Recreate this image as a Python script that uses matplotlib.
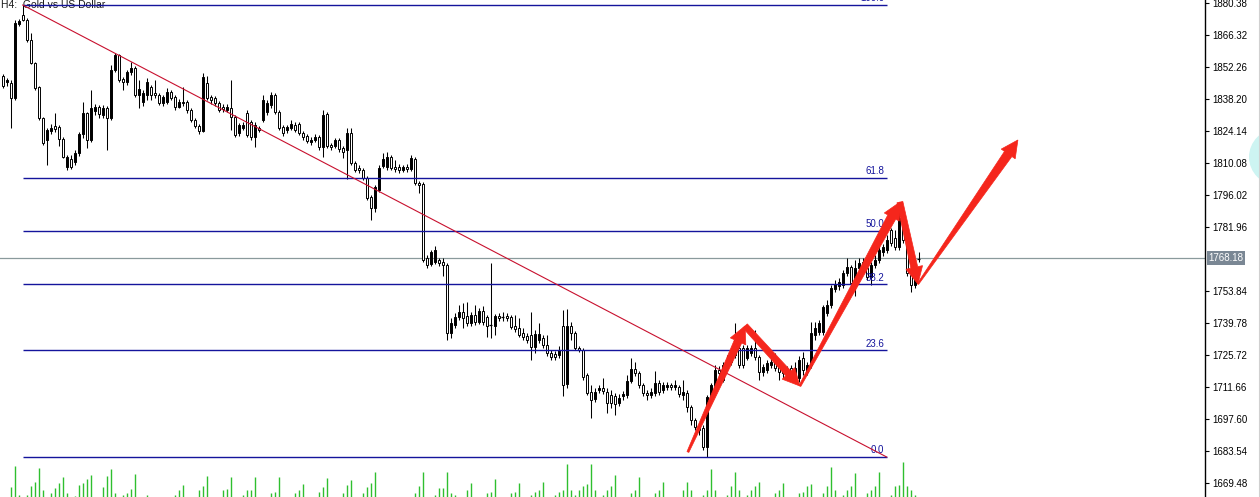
import numpy as np
import matplotlib
matplotlib.use('Agg')
import matplotlib.pyplot as plt
from matplotlib.patches import Rectangle, Polygon, Circle
from matplotlib.lines import Line2D
from matplotlib.transforms import IdentityTransform, blended_transform_factory

plt.rcParams['font.family'] = ['Liberation Sans', 'DejaVu Sans']

# H4 XAUUSD candles
opens = [
    1848.3, 1845.7, 1845.2, 1838.6, 1871.2, 1875.1, 1872.9, 1864.1, 1854.0, 1843.5,
    1829.8, 1820.2, 1824.1, 1826.3, 1825.9, 1820.6, 1808.3, 1811.8, 1810.5, 1814.5,
    1822.8, 1832.1, 1820.2, 1832.9, 1834.7, 1831.2, 1834.2, 1829.8, 1850.9, 1857.5,
    1847.0, 1845.7, 1850.1, 1851.8, 1840.0, 1836.9, 1840.0, 1843.5, 1840.8, 1840.0,
    1836.4, 1836.9, 1841.3, 1839.1, 1834.7, 1836.4, 1836.9, 1833.4, 1829.0, 1826.3,
    1824.1, 1845.2, 1839.1, 1838.6, 1836.4, 1834.7, 1833.4, 1834.2, 1830.3, 1823.3,
    1825.5, 1832.1, 1828.1, 1821.5, 1825.5, 1829.0, 1832.5, 1835.6, 1840.0, 1832.5,
    1825.9, 1824.6, 1825.5, 1826.8, 1827.2, 1823.3, 1821.9, 1819.3, 1820.2, 1821.5,
    1817.1, 1831.6, 1818.0, 1817.5, 1820.2, 1816.7, 1815.8, 1823.3, 1810.1, 1807.9,
    1807.0, 1803.5, 1795.1, 1790.3, 1798.2, 1808.8, 1808.3, 1812.7, 1808.3, 1808.3,
    1807.0, 1808.3, 1807.4, 1811.8, 1801.3, 1800.9, 1768.3, 1765.7, 1766.6, 1767.5,
    1766.6, 1765.3, 1735.4, 1738.9, 1742.4, 1744.6, 1742.9, 1739.8, 1743.3, 1740.2,
    1745.0, 1742.4, 1738.9, 1738.5, 1742.9, 1742.4, 1742.9, 1742.4, 1738.5, 1737.6,
    1735.4, 1734.1, 1734.5, 1729.2, 1732.3, 1733.2, 1730.1, 1726.6, 1726.1, 1725.7,
    1738.5, 1713.0, 1738.5, 1735.4, 1728.8, 1727.9, 1716.9, 1709.4, 1706.4, 1710.4,
    1711.2, 1709.4, 1708.1, 1707.7, 1704.6, 1707.7, 1708.1, 1714.3, 1719.6, 1717.8,
    1712.5, 1709.0, 1708.1, 1709.0, 1713.4, 1710.4, 1711.6, 1712.5, 1711.6, 1711.6,
    1708.1, 1709.0, 1702.9, 1697.2, 1694.1, 1693.6, 1685.3, 1707.3, 1710.4, 1719.1,
    1714.7, 1720.0, 1722.6, 1725.7, 1728.8, 1728.8, 1724.4, 1726.6, 1728.8, 1724.8,
    1718.2, 1719.1, 1721.3, 1724.8, 1720.4, 1720.0, 1719.1, 1720.0, 1716.9, 1715.6,
    1724.4, 1718.2, 1721.3, 1734.5, 1735.8, 1735.8, 1744.2, 1747.7, 1754.7, 1756.0,
    1756.5, 1761.7, 1764.4, 1758.7, 1763.9, 1766.6, 1763.9, 1760.0, 1765.3, 1767.5,
    1770.9, 1771.9, 1780.6, 1777.1, 1773.2, 1785.9, 1776.2, 1760.9, 1756.5, 1767.9,
]
highs = [
    1849.2, 1847.4, 1846.5, 1872.9, 1873.4, 1879.5, 1873.8, 1867.2, 1854.5, 1843.9,
    1830.3, 1825.5, 1827.2, 1832.1, 1826.8, 1821.5, 1813.6, 1813.6, 1815.8, 1823.7,
    1836.9, 1832.5, 1842.2, 1836.0, 1835.6, 1835.6, 1835.1, 1853.1, 1858.4, 1858.0,
    1847.9, 1850.9, 1854.5, 1852.7, 1846.5, 1842.2, 1847.4, 1844.3, 1846.5, 1840.8,
    1840.0, 1843.0, 1842.2, 1840.0, 1838.2, 1843.5, 1837.8, 1834.2, 1829.8, 1827.2,
    1849.6, 1848.3, 1840.0, 1839.5, 1837.3, 1836.0, 1836.0, 1846.5, 1831.2, 1827.7,
    1828.1, 1833.4, 1829.0, 1828.1, 1826.3, 1840.0, 1837.8, 1841.3, 1840.8, 1833.4,
    1826.8, 1826.8, 1829.0, 1828.1, 1828.1, 1824.1, 1822.8, 1821.5, 1822.8, 1822.4,
    1833.4, 1832.5, 1818.9, 1821.1, 1821.1, 1817.5, 1825.5, 1825.5, 1810.9, 1809.2,
    1807.9, 1804.4, 1796.0, 1800.4, 1809.2, 1814.5, 1814.9, 1813.6, 1811.4, 1809.6,
    1809.2, 1809.6, 1813.6, 1812.7, 1802.2, 1801.7, 1769.7, 1771.9, 1773.6, 1768.3,
    1768.3, 1766.1, 1742.0, 1744.2, 1747.7, 1748.6, 1749.0, 1744.6, 1747.7, 1746.4,
    1747.2, 1743.3, 1766.1, 1743.7, 1744.2, 1744.6, 1744.2, 1743.3, 1743.3, 1742.0,
    1737.6, 1735.4, 1744.6, 1736.7, 1739.8, 1734.5, 1734.5, 1727.9, 1727.5, 1729.7,
    1745.5, 1745.9, 1740.2, 1736.3, 1729.7, 1728.8, 1717.8, 1712.5, 1711.2, 1712.5,
    1715.6, 1711.2, 1710.4, 1709.0, 1708.6, 1709.9, 1716.9, 1724.4, 1722.6, 1718.7,
    1713.4, 1710.4, 1711.2, 1718.7, 1714.7, 1713.9, 1713.9, 1713.4, 1714.7, 1712.5,
    1714.7, 1710.4, 1703.7, 1698.0, 1695.4, 1695.0, 1708.1, 1713.4, 1721.3, 1720.9,
    1722.6, 1725.7, 1727.9, 1739.8, 1732.3, 1730.1, 1730.1, 1730.1, 1736.7, 1725.7,
    1721.8, 1723.5, 1724.4, 1726.6, 1721.8, 1721.3, 1720.9, 1721.3, 1722.6, 1725.3,
    1727.0, 1722.6, 1740.2, 1740.2, 1741.1, 1747.7, 1749.9, 1756.5, 1758.7, 1759.5,
    1763.1, 1768.3, 1765.3, 1767.5, 1768.3, 1768.3, 1765.3, 1766.6, 1769.7, 1773.6,
    1774.5, 1778.4, 1781.5, 1780.6, 1788.5, 1787.2, 1777.6, 1762.2, 1760.9, 1771.0,
]
lows = [
    1843.0, 1843.9, 1825.5, 1837.8, 1870.3, 1872.5, 1863.2, 1853.6, 1842.2, 1829.0,
    1818.0, 1809.2, 1822.8, 1823.7, 1817.5, 1812.3, 1807.0, 1807.4, 1809.2, 1813.2,
    1821.1, 1816.7, 1819.3, 1831.2, 1829.8, 1829.8, 1815.8, 1829.0, 1850.1, 1845.7,
    1842.2, 1844.3, 1848.7, 1839.1, 1834.2, 1835.1, 1837.8, 1837.8, 1838.6, 1835.6,
    1835.1, 1836.0, 1837.8, 1833.4, 1834.2, 1835.1, 1832.1, 1828.1, 1825.5, 1822.8,
    1823.7, 1837.8, 1836.0, 1835.1, 1832.5, 1832.5, 1832.5, 1824.6, 1821.5, 1821.9,
    1824.6, 1821.5, 1820.2, 1817.1, 1823.7, 1828.1, 1831.2, 1834.2, 1831.6, 1824.6,
    1821.9, 1823.3, 1824.6, 1823.7, 1822.4, 1820.2, 1818.9, 1818.0, 1819.3, 1815.8,
    1812.7, 1816.7, 1815.8, 1816.7, 1814.9, 1812.3, 1803.0, 1809.2, 1806.1, 1805.7,
    1802.6, 1793.8, 1785.0, 1788.6, 1797.3, 1807.9, 1807.0, 1807.0, 1806.1, 1805.7,
    1806.1, 1806.1, 1806.6, 1800.4, 1796.9, 1766.6, 1763.9, 1764.8, 1765.7, 1764.8,
    1760.4, 1732.3, 1733.2, 1737.6, 1741.1, 1737.6, 1738.5, 1738.5, 1738.9, 1739.3,
    1738.9, 1733.6, 1733.2, 1734.5, 1740.7, 1740.7, 1740.7, 1737.1, 1735.8, 1733.6,
    1732.3, 1731.0, 1723.5, 1726.6, 1731.0, 1728.8, 1725.3, 1723.5, 1723.5, 1724.4,
    1707.7, 1711.2, 1732.3, 1727.9, 1727.0, 1714.7, 1708.1, 1698.0, 1705.1, 1709.0,
    1708.6, 1700.2, 1702.4, 1699.3, 1703.3, 1705.9, 1706.8, 1713.4, 1716.5, 1711.2,
    1707.7, 1705.9, 1706.8, 1707.7, 1708.1, 1709.0, 1710.4, 1710.4, 1710.4, 1707.3,
    1705.9, 1700.7, 1695.0, 1692.8, 1690.6, 1684.0, 1680.9, 1705.9, 1709.5, 1716.5,
    1713.9, 1719.1, 1721.3, 1724.4, 1720.0, 1720.0, 1723.5, 1725.3, 1723.5, 1714.7,
    1716.5, 1717.8, 1720.0, 1718.7, 1714.7, 1715.6, 1714.7, 1715.6, 1714.7, 1713.9,
    1716.9, 1716.9, 1720.0, 1732.3, 1734.5, 1734.5, 1742.9, 1746.4, 1753.4, 1754.3,
    1755.2, 1760.4, 1756.0, 1751.6, 1762.2, 1762.6, 1758.7, 1756.5, 1763.9, 1766.1,
    1769.2, 1770.5, 1773.6, 1771.9, 1771.9, 1774.9, 1760.4, 1753.4, 1755.2, 1766.6,
]
closes = [
    1843.9, 1846.5, 1838.6, 1871.6, 1872.5, 1872.9, 1864.1, 1854.0, 1843.0, 1829.8,
    1818.9, 1824.6, 1825.5, 1825.0, 1820.6, 1812.7, 1812.7, 1808.3, 1814.5, 1822.8,
    1832.1, 1820.2, 1834.2, 1834.7, 1831.6, 1834.2, 1829.8, 1850.9, 1857.5, 1846.5,
    1845.7, 1850.1, 1851.8, 1840.0, 1842.6, 1840.8, 1845.7, 1840.0, 1840.0, 1836.4,
    1839.1, 1841.3, 1838.6, 1834.7, 1836.9, 1836.9, 1833.4, 1829.0, 1826.3, 1824.1,
    1847.9, 1838.6, 1837.8, 1836.4, 1833.4, 1833.8, 1834.7, 1830.3, 1822.4, 1826.8,
    1826.8, 1822.4, 1821.5, 1826.8, 1824.6, 1837.8, 1836.4, 1840.0, 1832.5, 1825.5,
    1823.3, 1825.9, 1827.2, 1824.6, 1823.3, 1821.5, 1819.7, 1820.2, 1821.5, 1817.1,
    1831.2, 1817.5, 1817.1, 1820.2, 1816.2, 1814.9, 1823.3, 1810.1, 1807.0, 1807.0,
    1803.5, 1794.7, 1790.3, 1799.5, 1807.9, 1811.8, 1812.7, 1807.9, 1807.4, 1807.0,
    1808.3, 1807.4, 1812.3, 1801.3, 1800.4, 1767.5, 1765.3, 1771.0, 1771.9, 1766.1,
    1765.3, 1735.4, 1739.8, 1742.4, 1744.6, 1742.0, 1739.8, 1743.3, 1740.2, 1745.0,
    1740.2, 1738.5, 1738.5, 1742.9, 1742.0, 1742.0, 1742.0, 1738.0, 1737.1, 1734.5,
    1733.6, 1732.3, 1729.2, 1734.9, 1734.9, 1730.1, 1726.6, 1724.8, 1724.8, 1727.9,
    1712.5, 1738.5, 1735.4, 1728.8, 1727.9, 1716.1, 1709.0, 1705.9, 1709.4, 1711.2,
    1709.9, 1704.6, 1704.6, 1704.2, 1706.8, 1708.6, 1714.3, 1719.6, 1717.8, 1712.5,
    1709.0, 1708.1, 1709.4, 1713.4, 1709.4, 1712.5, 1712.5, 1711.6, 1712.5, 1708.6,
    1709.4, 1702.9, 1697.2, 1694.1, 1692.8, 1685.3, 1707.3, 1712.5, 1719.1, 1717.8,
    1721.3, 1723.5, 1725.7, 1732.3, 1721.3, 1721.3, 1728.8, 1728.8, 1724.8, 1718.2,
    1720.4, 1722.2, 1722.6, 1720.0, 1718.2, 1717.8, 1716.9, 1716.9, 1720.0, 1723.5,
    1719.1, 1721.3, 1735.4, 1737.6, 1739.8, 1746.8, 1747.7, 1755.2, 1756.9, 1757.8,
    1761.7, 1764.4, 1757.4, 1763.9, 1766.1, 1763.9, 1760.0, 1765.3, 1767.5, 1771.9,
    1773.2, 1776.2, 1774.9, 1773.2, 1785.9, 1776.2, 1761.7, 1756.5, 1759.5, 1768.2,
]
# tick volume, only the tops poke into the visible strip
volumes = [
    0, 0, 10, 31, 2, 0, 2, 11, 15, 29,
    7, 0, 4, 9, 14, 20, 4, 0, 1, 12,
    14, 18, 22, 0, 0, 10, 21, 28, 4, 0,
    2, 4, 8, 23, 0, 0, 2, 0, 0, 0,
    0, 0, 0, 2, 7, 12, 0, 0, 0, 7,
    11, 21, 0, 0, 0, 7, 8, 20, 0, 0,
    2, 7, 7, 20, 0, 0, 0, 4, 5, 20,
    0, 0, 0, 4, 7, 13, 0, 0, 0, 5,
    10, 19, 0, 0, 0, 4, 12, 17, 0, 0,
    4, 10, 14, 25, 0, 0, 0, 0, 0, 0,
    0, 0, 0, 4, 11, 25, 0, 0, 2, 9,
    9, 25, 4, 2, 0, 0, 7, 14, 0, 0,
    0, 4, 5, 18, 0, 0, 0, 4, 5, 14,
    0, 0, 2, 5, 7, 15, 0, 0, 2, 5,
    7, 33, 7, 2, 7, 11, 13, 33, 7, 0,
    2, 7, 11, 22, 0, 0, 0, 4, 7, 20,
    0, 0, 0, 4, 7, 15, 0, 0, 0, 0,
    7, 15, 7, 0, 0, 2, 7, 28, 7, 0,
    0, 2, 11, 25, 7, 0, 2, 7, 11, 15,
    0, 0, 0, 4, 7, 14, 0, 0, 0, 4,
    5, 11, 13, 0, 0, 4, 11, 30, 7, 0,
    2, 7, 11, 24, 0, 0, 4, 7, 11, 25,
    0, 0, 2, 11, 12, 35, 11, 7, 2, 0,
]

price_ticks = [1880.38, 1866.32, 1852.26, 1838.20, 1824.14, 1810.08, 1796.02, 1781.96,
               1753.84, 1739.78, 1725.72, 1711.66, 1697.60, 1683.54, 1669.48]
last_price = 1768.18

# fibo retracement anchors (bar index, price) and levels
fib_bars = [5, 221]
fib_prices = [1879.5, 1680.9]
fib_levels = [0.0, 23.6, 38.2, 50.0, 61.8, 100.0]

# hand drawn zigzag arrows (bar index, price)
arrow_bars = [171.3, 185.6, 199.3, 224.3, 228.8, 253.8]
arrow_prices = [1683.1, 1738.5, 1712.1, 1792.9, 1756.9, 1820.2]

W, H = 1260, 497
fig = plt.figure(figsize=(W / 100, H / 100), dpi=100)
fig.patch.set_facecolor('white')

AXR = 1205  # price scale starts here (px)
ax = fig.add_axes([0, 0, AXR / W, 1])
xlim = (-0.675, (AXR - 2.7) / 4)
ax.set_xlim(*xlim)
ax.set_ylim(1663.33, 1881.70)
ax.set_facecolor('none')

for s in ['left', 'top', 'bottom']:
    ax.spines[s].set_visible(False)
ax.spines['right'].set_color('black')
ax.spines['right'].set_linewidth(1)
ax.set_xticks([])
ax.yaxis.tick_right()
ax.set_yticks(price_ticks)
ax.set_yticklabels(['%.2f' % t for t in price_ticks])
ax.tick_params(axis='y', direction='out', length=3, width=0.8, pad=2,
               labelsize=7, colors='black')

# candles
for i in range(len(opens)):
    o, h, l, c = opens[i], highs[i], lows[i], closes[i]
    ax.vlines(i, l, h, color='black', lw=0.75, zorder=3)
    bull = c >= o
    lo, hi = min(o, c), max(o, c)
    if hi - lo < 0.5:
        ax.hlines((o + c) / 2, i - 0.4, i + 0.4, color='black', lw=0.9, zorder=3)
    else:
        ax.add_patch(Rectangle((i - 0.28, lo), 0.56, hi - lo,
                               fc='black' if bull else 'white', ec='black', lw=0.7, zorder=3))

# last price line + label
ax.axhline(last_price, color='#8a9a9c', lw=0.9, zorder=2)
trans = blended_transform_factory(ax.transAxes, ax.transData)
ax.text(1 + 3.5 / AXR, last_price, '%.2f' % last_price, transform=trans, ha='left', va='center',
        fontsize=7, color='white', clip_on=False, zorder=10,
        bbox=dict(boxstyle='square,pad=0.2', fc='#7a8794', ec='none'))

# fibonacci
fib_col = '#14149c'
rng = fib_prices[0] - fib_prices[1]
for lv in fib_levels:
    p = fib_prices[1] + rng * lv / 100
    ax.plot(fib_bars, [p, p], color=fib_col, lw=1.0, zorder=4, solid_capstyle='butt')
    ax.annotate('%.1f' % lv, (fib_bars[1] - 0.6, p), xytext=(0, 1.2), textcoords='offset points',
                ha='right', va='bottom', fontsize=7, color=fib_col, zorder=4, annotation_clip=False)
ax.plot(fib_bars, fib_prices, color='#c8102e', lw=0.8, zorder=4)

# title
ax.text(1 / AXR, 1 - 0.5 / H, 'H4:  Gold vs US Dollar', transform=ax.transAxes,
        ha='left', va='top', fontsize=7.5, color='#1a1a1a', zorder=1)

# volume strip
vax = fig.add_axes([0, 0, AXR / W, 40 / H])
vax.set_xlim(*xlim)
vax.set_ylim(0, 40)
vax.axis('off')
vax.patch.set_alpha(0)
vx = [i for i, v in enumerate(volumes) if v > 0]
vv = [v for v in volumes if v > 0]
vax.vlines(vx, 0, vv, color='#2fbf2f', lw=1.0, capstyle='butt')


def tapered_arrow(p0, p1, w0, w1, head_w, head_len, color='#f5261c'):
    a = ax.transData.transform(p0)
    b = ax.transData.transform(p1)
    d = b - a
    u = d / np.hypot(*d)
    n = np.array([-u[1], u[0]])
    base = b - u * head_len
    pts = [a + n * w0 / 2, base + n * w1 / 2, base + n * head_w / 2, b,
           base - n * head_w / 2, base - n * w1 / 2, a - n * w0 / 2]
    pts = ax.transData.inverted().transform(pts)
    ax.add_patch(Polygon(pts, closed=True, fc=color, ec=color, lw=0.5, zorder=6))


widths = [(2, 8), (6, 7), (2, 9), (6, 7), (1.5, 9)]
for k in range(len(arrow_bars) - 1):
    w0, w1 = widths[k]
    tapered_arrow((arrow_bars[k], arrow_prices[k]), (arrow_bars[k + 1], arrow_prices[k + 1]),
                  w0, w1, 17, 17)

# bits of the terminal window at the right edge
fig.add_artist(Circle((1277, H - 157), 28, transform=IdentityTransform(),
                      fc='#cdf4f2', ec='none', zorder=0))
fig.add_artist(Line2D([1258.5 / W, 1258.5 / W], [0, 1], transform=fig.transFigure,
                      color='#d0d0d0', lw=0.8))

fig.savefig('out.png', dpi=100)
